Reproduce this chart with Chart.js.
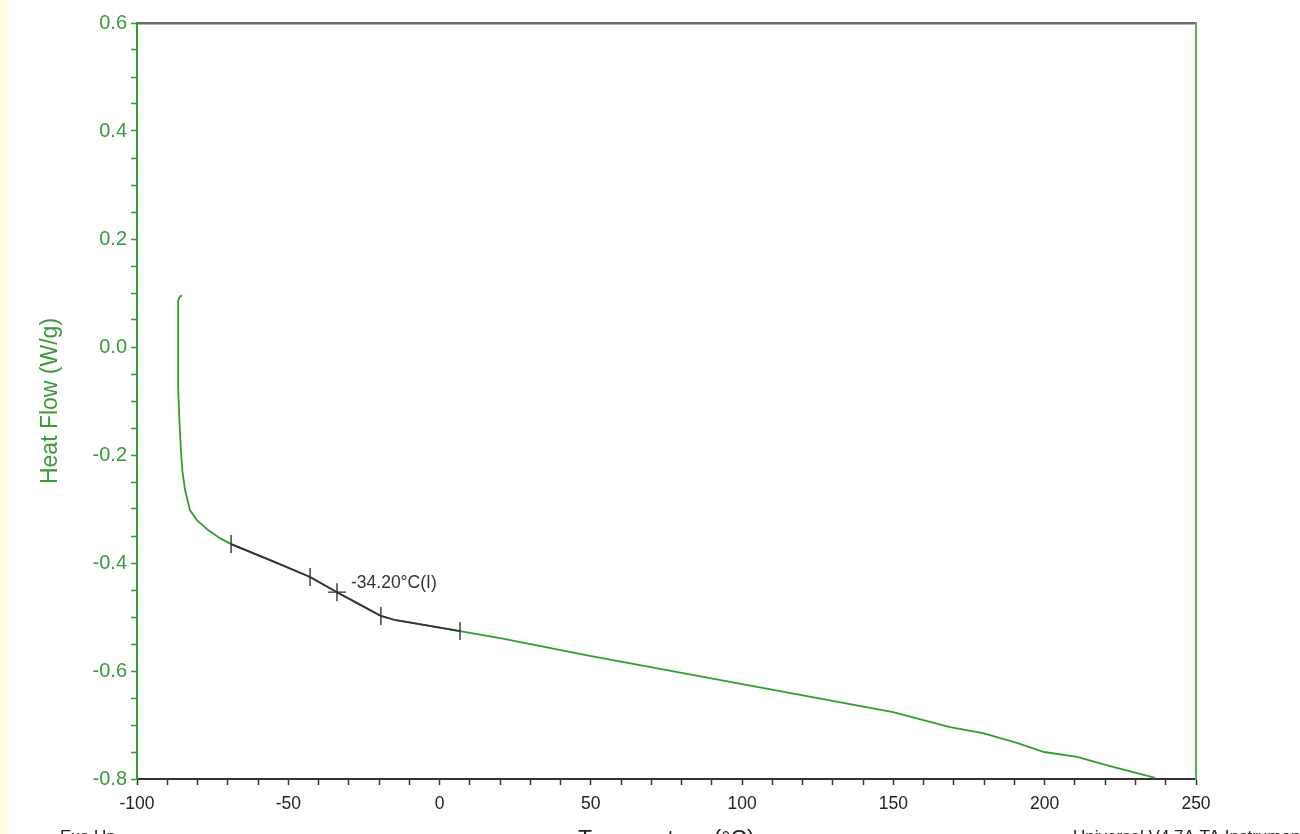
<!DOCTYPE html>
<html>
<head>
<meta charset="utf-8">
<script src="https://cdn.jsdelivr.net/npm/chart.js@4.4.1/dist/chart.umd.min.js"></script>
<style>
html,body{margin:0;padding:0;background:#fff;}
#wrap{width:1300px;height:834px;position:relative;}
</style>
</head>
<body>
<div id="wrap"><canvas id="c" width="1300" height="834"></canvas></div>
<script>
// Heat flow curve (green)
const temperature = [-85.2, -86.0, -86.4, -86.4, -86.0, -85.5, -85.0, -84.1, -82.5, -80.3, -76.5, -72.6, -68.9, -55.0, -42.8, -33.9, -26.0, -19.4, -14.5, -10.0, 6.75, 20.0, 49.7, 99.6, 149.9, 168.7, 179.6, 190.8, 199.8, 210.7, 221.6, 230.5, 236.5];
const heatFlow    = [0.096, 0.092, 0.085, -0.074, -0.135, -0.190, -0.230, -0.265, -0.302, -0.320, -0.339, -0.354, -0.365, -0.397, -0.426, -0.454, -0.478, -0.498, -0.506, -0.510, -0.526, -0.539, -0.572, -0.624, -0.676, -0.704, -0.715, -0.733, -0.750, -0.759, -0.776, -0.789, -0.798];
// Glass transition analysis segment (black)
const tgTemperature = [-68.9, -55.0, -42.8, -33.9, -26.0, -19.4, -14.5, -10.0, 6.75];
const tgHeatFlow    = [-0.365, -0.397, -0.426, -0.454, -0.478, -0.498, -0.506, -0.510, -0.526];
// Analysis markers
const markerTemperature = [-68.9, -42.8, -33.9, -19.4, 6.75];
const markerHeatFlow    = [-0.365, -0.426, -0.454, -0.498, -0.526];
const markerStyle       = ['line', 'line', 'cross', 'line', 'line'];
const inflectionLabel = '-34.20°C(I)';
const xTicksMajor = [-100, -50, 0, 50, 100, 150, 200, 250];
const yTicksMajor = [0.6, 0.4, 0.2, 0.0, -0.2, -0.4, -0.6, -0.8];
const xTitle = 'Temperature (°C)';
const yTitle = 'Heat Flow (W/g)';
const footLeft = 'Exo Up';
const footRight = 'Universal V4.7A TA Instruments';

const GREEN = '#2f9e2f';
const LABEL_GREEN = '#3a9a3a';
const FONT = 'Liberation Sans, Arial, sans-serif';

const toPts = (xs, ys) => xs.map((x, i) => ({x: x, y: ys[i]}));

const decor = {
  id: 'decor',
  beforeDraw(chart) {
    const ctx = chart.ctx;
    ctx.save();
    ctx.fillStyle = '#ffffff';
    ctx.fillRect(0, 0, chart.width, chart.height);
    ctx.fillStyle = '#ffffe0';
    ctx.fillRect(0, 0, 8, chart.height);
    ctx.restore();
  },
  afterDraw(chart) {
    const ctx = chart.ctx;
    const xs = chart.scales.x, ys = chart.scales.y;
    ctx.save();
    // inflection label
    const i = markerStyle.indexOf('cross');
    ctx.font = '17.5px ' + FONT;
    ctx.fillStyle = '#333';
    ctx.textBaseline = 'middle';
    ctx.textAlign = 'left';
    ctx.fillText(inflectionLabel, xs.getPixelForValue(markerTemperature[i]) + 14, ys.getPixelForValue(markerHeatFlow[i]) - 9);
    // footer texts
    ctx.font = '17px ' + FONT;
    ctx.fillStyle = '#222';
    ctx.textBaseline = 'top';
    ctx.fillText(footLeft, 60, 829);
    ctx.fillText(footRight, 1073, 829);
    ctx.font = '23px ' + FONT;
    ctx.fillText(xTitle, 578, 829);
    ctx.restore();
  }
};

new Chart(document.getElementById('c'), {
  type: 'scatter',
  data: {
    datasets: [
      {
        data: toPts(temperature, heatFlow),
        showLine: true, borderColor: GREEN, borderWidth: 1.8, pointRadius: 0, tension: 0, order: 3
      },
      {
        data: toPts(tgTemperature, tgHeatFlow),
        showLine: true, borderColor: '#333333', borderWidth: 1.8, pointRadius: 0, tension: 0, order: 2
      },
      {
        data: toPts(markerTemperature, markerHeatFlow),
        showLine: false, pointStyle: markerStyle, pointRotation: markerStyle.map(s => s === 'line' ? 90 : 0),
        pointRadius: 9, borderColor: '#333333', backgroundColor: '#333333', borderWidth: 1.4, order: 1
      }
    ]
  },
  plugins: [decor],
  options: {
    responsive: false,
    animation: false,
    events: [],
    layout: {padding: {left: 0, right: 0, top: 23, bottom: 0}},
    plugins: {legend: {display: false}, tooltip: {enabled: false}},
    scales: {
      x: {
        type: 'linear', position: 'bottom', min: -100, max: 250,
        afterFit(s) { s.height = 55; },
        ticks: {
          stepSize: 10, autoSkip: false, maxRotation: 0, padding: 9,
          color: '#222', font: {family: FONT, size: 17.5},
          callback: v => xTicksMajor.includes(v) ? String(v) : ''
        },
        grid: {drawOnChartArea: false, tickLength: 6, tickColor: '#333', tickWidth: 1.5},
        border: {color: '#333', width: 2}
      },
      x2: {
        type: 'linear', position: 'top', min: -100, max: 250,
        afterFit(s) { s.height = 0; },
        ticks: {display: false},
        grid: {display: false, drawTicks: false},
        border: {color: '#6a6a6a', width: 2.5}
      },
      y: {
        type: 'linear', position: 'left', min: -0.8, max: 0.6,
        afterFit(s) { s.width = 137; },
        ticks: {
          stepSize: 0.05, autoSkip: false, padding: 4,
          color: LABEL_GREEN, font: {family: FONT, size: 20},
          callback: v => {
            const r = Math.round(v * 100) / 100;
            return yTicksMajor.some(t => Math.abs(t - r) < 1e-6) ? r.toFixed(1) : '';
          }
        },
        grid: {drawOnChartArea: false, tickLength: 6, tickColor: GREEN, tickWidth: 1.5},
        border: {color: GREEN, width: 2},
        title: {display: true, text: yTitle, color: LABEL_GREEN, font: {family: FONT, size: 23}, padding: {top: 37, bottom: 0}}
      },
      y2: {
        type: 'linear', position: 'right', min: -0.8, max: 0.6,
        afterFit(s) { s.width = 104; },
        ticks: {display: false},
        grid: {display: false, drawTicks: false},
        border: {color: '#4cb84c', width: 2}
      }
    }
  }
});
</script>
</body>
</html>
